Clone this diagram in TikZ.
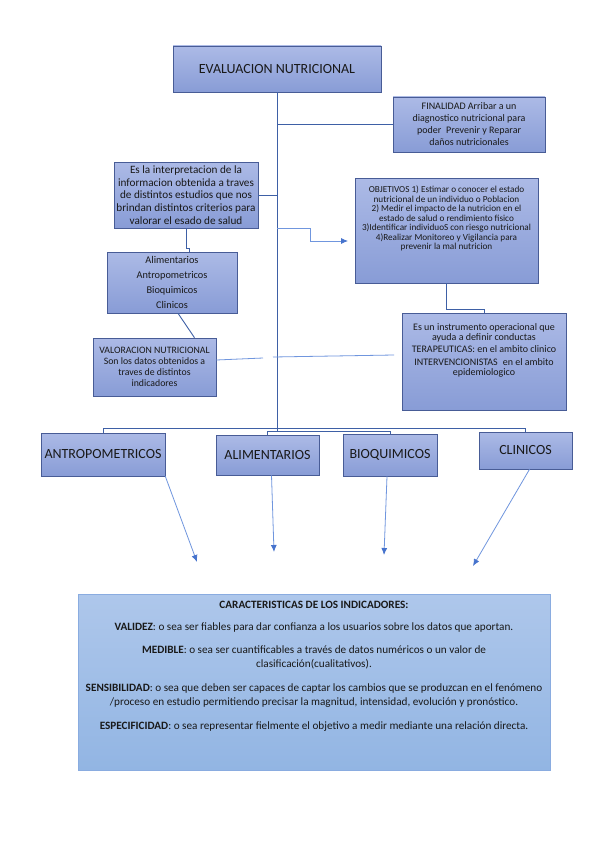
\documentclass[tikz,border=0pt]{standalone}
\usepackage{fontspec}
\setmainfont{Carlito}
\usetikzlibrary{arrows.meta,shadows}
\definecolor{boxtop}{RGB}{172,186,230}
\definecolor{boxbot}{RGB}{136,156,214}
\definecolor{boxline}{RGB}{72,92,150}
\definecolor{treec}{RGB}{62,96,166}
\definecolor{arrowc}{RGB}{112,150,222}
\definecolor{arrowh}{RGB}{70,115,205}
\definecolor{bigtop}{RGB}{174,199,235}
\definecolor{bigbot}{RGB}{146,181,227}
\definecolor{bigline}{RGB}{138,172,224}
\definecolor{txt}{RGB}{25,25,25}
\tikzset{
  boxn/.style={draw=boxline, line width=0.6pt, top color=boxtop, bottom color=boxbot,
    inner sep=0pt, align=center, text=txt,
    drop shadow={shadow xshift=1.2pt, shadow yshift=-1.2pt, opacity=0.25}},
  bigbox/.style={draw=bigline, line width=0.7pt, top color=bigtop, bottom color=bigbot, inner sep=0pt},
  tree/.style={draw=treec, line width=0.9pt},
  lightc/.style={draw=arrowc, line width=0.8pt},
  arr/.style={lightc, -{Latex[length=7pt,width=6pt,color=arrowh]}},
  tx/.style={inner sep=0pt, align=center, text=txt}
}
\begin{document}
\begin{tikzpicture}[x=1pt,y=-1pt]
\fill[white] (0,0) rectangle (599,848);
\path[use as bounding box] (0,0) rectangle (599,848);

% boxes
\node[boxn, minimum width=208pt, minimum height=46pt, font=\fontsize{14}{16}\selectfont] (title) at (277,69)
  {EVALUACION NUTRICIONAL};
\node[boxn, minimum width=152pt, minimum height=55pt, font=\fontsize{10}{12}\selectfont] (fin) at (469,124.5)
  {FINALIDAD Arribar a un\\diagnostico nutricional para\\poder\enspace Prevenir y Reparar\\daños nutricionales};
\node[boxn, minimum width=144pt, minimum height=66pt, font=\fontsize{11.2}{12.8}\selectfont] (interp) at (186,195)
  {Es la interpretacion de la\\informacion obtenida a traves\\de distintos estudios que nos\\brindan distintos criterios para\\valorar el esado de salud};
\node[boxn, minimum width=183pt, minimum height=105pt] (obj) at (446.5,230.5) {};
\node[tx, anchor=north, font=\fontsize{9.2}{9.1}\selectfont] (objt) at (446.5,186)
  {OBJETIVOS 1) Estimar o conocer el estado\\nutricional de un individuo o Poblacion\\[0.8pt]2) Medir el impacto de la nutricion en el\\estado de salud o rendimiento fisico\\[0.8pt]3)Identificar individuoS con riesgo nutricional\\[0.8pt]4)Realizar Monitoreo y Vigilancia para\\prevenir la mal nutricion};
\node[boxn, minimum width=130pt, minimum height=61pt, font=\fontsize{10.3}{14.7}\selectfont] (alim) at (172,282.5)
  {Alimentarios\\Antropometricos\\Bioquimicos\\Clinicos};
\node[boxn, minimum width=123pt, minimum height=58pt, font=\fontsize{9.8}{10.8}\selectfont] (valor) at (154.5,367)
  {VALORACION NUTRICIONAL\\Son los datos obtenidos a\\traves de distintos\\indicadores};
\node[boxn, minimum width=164pt, minimum height=97pt] (instr) at (484,361.5) {};
\node[tx, anchor=north, font=\fontsize{10}{10.4}\selectfont] (instrt) at (484,323)
  {Es un instrumento operacional que\\ayuda a definir conductas\\[2pt]TERAPEUTICAS: en el ambito clinico\\[2pt]INTERVENCIONISTAS\enspace en el ambito\\epidemiologico};

\node[boxn, minimum width=124pt, minimum height=43pt, font=\fontsize{14}{15}\selectfont] (antro) at (103,454.5)
  {ANTROPOMETRICOS};
\node[boxn, minimum width=103pt, minimum height=40pt, font=\fontsize{14}{15}\selectfont] (alim2) at (267.5,455)
  {ALIMENTARIOS};
\node[boxn, minimum width=94pt, minimum height=42pt, font=\fontsize{14}{15}\selectfont] (bioq) at (390,455)
  {BIOQUIMICOS};
\node[boxn, minimum width=93pt, minimum height=37pt, font=\fontsize{14}{15}\selectfont] (clin) at (525.5,450.5)
  {CLINICOS};

\node[bigbox, minimum width=472pt, minimum height=176pt] (big) at (314,682) {};
\node[tx, anchor=north, font=\fontsize{11.2}{14}\selectfont] (bigt) at (314,601)
  {\textbf{CARACTERISTICAS DE LOS INDICADORES:}\\[8pt]
  \textbf{VALIDEZ}: o sea ser fiables para dar confianza a los usuarios sobre los datos que aportan.\\[9pt]
  \textbf{MEDIBLE}: o sea ser cuantificables a través de datos numéricos o un valor de\\
  clasificación(cualitativos).\\[10pt]
  \textbf{SENSIBILIDAD}: o sea que deben ser capaces de captar los cambios que se produzcan en el fenómeno\\
  /proceso en estudio permitiendo precisar la magnitud, intensidad, evolución y pronóstico.\\[10pt]
  \textbf{ESPECIFICIDAD}: o sea representar fielmente el objetivo a medir mediante una relación directa.};

% coordinates
\coordinate (tb) at (277,428);
\coordinate (oa) at (277,228);
\coordinate (ob) at (310,228);
\coordinate (oc) at (310,241);
\coordinate (od) at (348,241);
\coordinate (g1) at (263,358);
\coordinate (g2) at (273,357);
\coordinate (g3) at (394,355);
\coordinate (e1) at (197,562);
\coordinate (e2) at (274,552);
\coordinate (e3) at (384,555);
\coordinate (e4) at (473,566);

% tree connectors
\draw[tree] (title.south) -- (tb);
\draw[tree] (title.south |- fin.west) -- (fin.west);
\draw[tree] (interp.east) -- (interp.east -| title.south);
\draw[tree] (interp.south) -- ++(0,20) -| ([xshift=3pt]interp.south |- alim.north);
\draw[tree] ([xshift=6pt]alim.south) -- ([xshift=40pt]valor.north);
\draw[tree] (obj.south) -- ++(0,26) -| (instr.north);
\draw[tree] (tb) -| (antro.north);
\draw[tree] (tb) -| (clin.north);
\draw[tree] (tb) -- ++(0,3) coordinate (tb2);
\draw[tree] (tb2) -| (alim2.north);
\draw[tree] (tb2) -| (bioq.north);

% light connectors
\draw[arr] (oa) -- (ob) -- (oc) -- (od);
\draw[lightc] ([yshift=7pt]valor.east) -- (g1);
\draw[lightc] (g2) -- (g3);
\draw[arr] (antro.south east) -- (e1);
\draw[arr] ([xshift=4pt]alim2.south) -- (e2);
\draw[arr] ([xshift=-3pt]bioq.south) -- (e3);
\draw[arr] ([xshift=4pt]clin.south) -- (e4);
\end{tikzpicture}
\end{document}
